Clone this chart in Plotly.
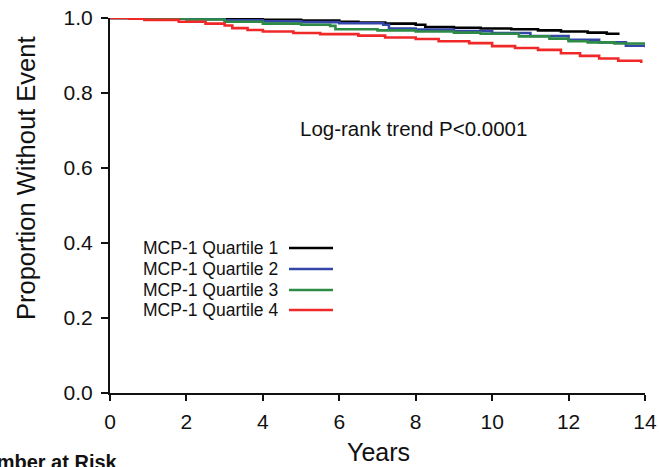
import plotly.graph_objects as go

# ---- data ----
q1_t = [0, 1.5, 3.0, 4.0, 5.0, 6.0, 6.5, 7.2, 8.0, 8.25, 9.0, 9.7, 10.5, 11.2, 11.8, 12.5, 13.0, 13.3]
q1_s = [1.0, 0.999, 0.997, 0.995, 0.993, 0.990, 0.988, 0.985, 0.982, 0.976, 0.974, 0.972, 0.970, 0.967, 0.964, 0.961, 0.958, 0.955]

q2_t = [0, 1.0, 2.0, 3.0, 4.0, 5.0, 6.0, 7.15, 7.3, 8.0, 9.0, 10.0, 11.0, 12.0, 12.8, 13.5, 14.0]
q2_s = [1.0, 0.999, 0.997, 0.994, 0.991, 0.989, 0.986, 0.982, 0.972, 0.969, 0.965, 0.960, 0.952, 0.942, 0.935, 0.926, 0.922]

q3_t = [0, 1.0, 2.0, 3.0, 4.0, 5.0, 5.76, 5.9, 7.0, 8.0, 9.0, 9.7, 10.7, 11.5, 12.0, 12.5, 13.2, 14.0]
q3_s = [1.0, 0.999, 0.996, 0.990, 0.985, 0.982, 0.979, 0.970, 0.967, 0.964, 0.961, 0.958, 0.951, 0.945, 0.938, 0.935, 0.932, 0.929]

q4_t = [0, 0.5, 0.9, 1.8, 2.5, 3.0, 3.2, 3.6, 4.0, 4.8, 5.5, 6.5, 7.2, 8.0, 8.6, 9.4, 10.0, 10.6, 11.2, 11.8, 12.3, 12.8, 13.3, 13.9]
q4_s = [1.0, 0.998, 0.995, 0.990, 0.985, 0.980, 0.973, 0.968, 0.964, 0.960, 0.957, 0.953, 0.948, 0.944, 0.938, 0.933, 0.925, 0.920, 0.915, 0.906, 0.899, 0.892, 0.886, 0.880]

series_names = ["MCP-1 Quartile 1", "MCP-1 Quartile 2", "MCP-1 Quartile 3", "MCP-1 Quartile 4"]
series_colors = ["#000000", "#3447A8", "#2E8B45", "#F02828"]

x_ticks = [0, 2, 4, 6, 8, 10, 12, 14]
y_ticks = [0.0, 0.2, 0.4, 0.6, 0.8, 1.0]
y_tick_labels = ["0.0", "0.2", "0.4", "0.6", "0.8", "1.0"]

FONT = "Liberation Sans, Arial, sans-serif"

fig = go.Figure()
for t, s, name, col in zip([q1_t, q2_t, q3_t, q4_t], [q1_s, q2_s, q3_s, q4_s], series_names, series_colors):
    fig.add_trace(go.Scatter(x=t, y=s, mode="lines", name=name,
                             line=dict(color=col, width=2.6, shape="hv"),
                             showlegend=False, hoverinfo="skip"))

# plot-area geometry (pixels) for placing layout items
L, R, T, B = 110, 14, 18, 74
W, H = 659, 467
pw, ph = W - L - R, H - T - B

def px(xp):
    return (xp - L) / pw

def py(yp):
    return (H - B - yp) / ph

annotations = []
shapes = []
row_y = [248, 269, 290, 310]
for name, col, yy in zip(series_names, series_colors, row_y):
    annotations.append(dict(text=name, xref="paper", yref="paper", x=px(141), y=py(yy),
                            xanchor="left", yanchor="middle", showarrow=False,
                            font=dict(family=FONT, size=17.5, color="#111")))
    shapes.append(dict(type="line", xref="paper", yref="paper", x0=px(289), x1=px(333),
                       y0=py(yy), y1=py(yy), line=dict(color=col, width=2.5)))

annotations.append(dict(text="Log-rank trend P<0.0001", xref="paper", yref="paper",
                        x=px(298), y=py(128.5), xanchor="left", yanchor="middle", showarrow=False,
                        font=dict(family=FONT, size=20.5, color="#111")))
annotations.append(dict(text="Proportion Without Event", xref="paper", yref="paper",
                        x=px(26), y=py(179), xanchor="center", yanchor="middle", textangle=-90,
                        showarrow=False, font=dict(family=FONT, size=25.5, color="#111")))
annotations.append(dict(text="Years", xref="paper", yref="paper",
                        x=px(378), y=py(452), xanchor="center", yanchor="middle",
                        showarrow=False, font=dict(family=FONT, size=25, color="#111")))
annotations.append(dict(text="<b>Number at Risk</b>", xref="paper", yref="paper",
                        x=px(120), y=py(449), xanchor="right", yanchor="top",
                        showarrow=False, font=dict(family=FONT, size=20, color="#111")))

fig.update_layout(
    width=W, height=H,
    margin=dict(l=L, r=R, t=T, b=B, pad=0, autoexpand=False),
    paper_bgcolor="white", plot_bgcolor="white",
    annotations=annotations, shapes=shapes,
    showlegend=False,
)
fig.update_xaxes(range=[0, 14], tickvals=x_ticks, showgrid=False, zeroline=False,
                 automargin=False,
                 showline=True, linecolor="#111", linewidth=2,
                 ticks="outside", ticklen=6, tickwidth=1.5, tickcolor="#111",
                 ticklabelstandoff=3,
                 tickfont=dict(family=FONT, size=21, color="#111"))
fig.update_yaxes(range=[0, 1.0], tickvals=y_ticks, ticktext=y_tick_labels, showgrid=False,
                 automargin=False,
                 zeroline=False, showline=True, linecolor="#111", linewidth=2,
                 ticks="outside", ticklen=7, tickwidth=1.5, tickcolor="#111",
                 ticklabelstandoff=4,
                 tickfont=dict(family=FONT, size=21, color="#111"))

fig.write_html("out.html", config={"displayModeBar": False},
               post_script="document.body.style.margin='0';document.body.style.overflow='hidden';")
